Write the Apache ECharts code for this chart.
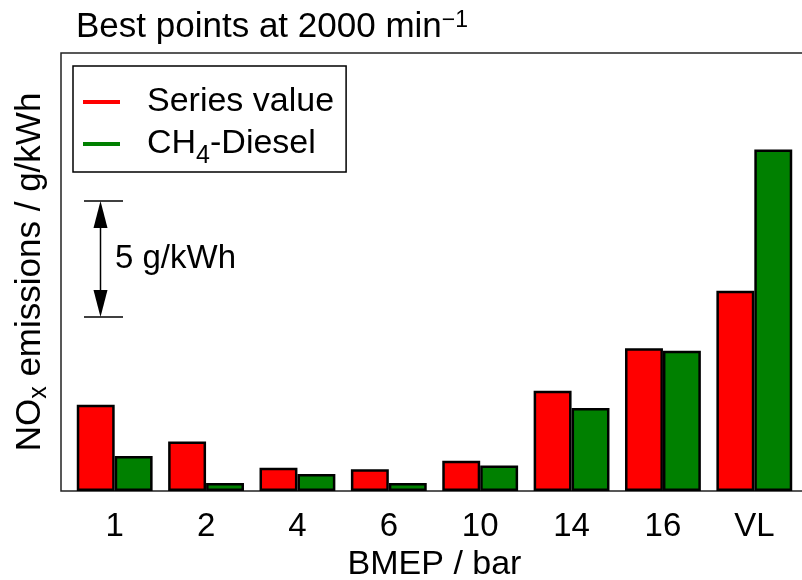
<!DOCTYPE html>
<html style='height: 100%'>
<head>
    <meta charset='utf-8'>
</head>
<body style='height: 100%; margin: 0; background: #fff'>
    <div id='container' style='width: 802px; height: 580px'></div>
    <script src="https://cdn.jsdelivr.net/npm/echarts@6/dist/echarts.min.js"></script>
    <script type="text/javascript">

// NOx at best points, 2000 1/min
var categories = ['1', '2', '4', '6', '10', '14', '16', 'VL'];
var seriesValue = [3.72, 2.13, 1.0, 0.94, 1.3, 4.32, 6.15, 8.63];
var ch4Diesel = [1.51, 0.35, 0.73, 0.35, 1.1, 3.58, 6.05, 14.72];
var scaleBar = [7.5, 12.5];   // 5 g/kWh reference bracket
var yMax = 18.88;

var FONT = "'Liberation Sans', Arial, sans-serif";
var dom = document.getElementById("container");
var myChart = echarts.init(dom);

var gridLeft = 69, gridTop = 53, gridBottom = 89;

var option = {
    animation: false,
    textStyle: { fontFamily: FONT, color: '#000' },
    title: {
        left: 71,
        top: 4,
        text: '{m|Best points at 2000 min}{s|\u22121}',
        textStyle: {
            rich: {
                m: { fontFamily: FONT, fontSize: 35, fontWeight: 'normal', color: '#000', lineHeight: 37 },
                s: { fontFamily: FONT, fontSize: 23, fontWeight: 'normal', color: '#000', lineHeight: 24, verticalAlign: 'top' }
            }
        }
    },
    legend: {
        left: 73,
        top: 66,
        orient: 'vertical',
        borderColor: '#000',
        borderWidth: 1.5,
        padding: [19, 12, 3, 10],
        itemWidth: 37,
        itemHeight: 4,
        itemGap: 8,
        icon: 'rect',
        itemStyle: { borderWidth: 0 },
        formatter: function (name) {
            if (name === 'CH4-Diesel') return '{t|CH}{b|4}{t|-Diesel}';
            return '{t|' + name + '}';
        },
        textStyle: {
            padding: [0, 0, 0, 22],
            rich: {
                t: { fontFamily: FONT, fontSize: 34, color: '#000', lineHeight: 32 },
                b: { fontFamily: FONT, fontSize: 25, color: '#000', lineHeight: 32, verticalAlign: 'top', padding: [16, 0, 0, 0] }
            }
        },
        data: ['Series value', 'CH4-Diesel']
    },
    grid: { left: gridLeft, right: 2, top: gridTop, bottom: gridBottom, outerBoundsMode: 'none' },
    xAxis: {
        type: 'category',
        data: categories,
        name: 'BMEP / bar',
        nameLocation: 'middle',
        nameGap: 54,
        nameTextStyle: { fontFamily: FONT, fontSize: 34, color: '#000' },
        axisLine: { show: false },
        axisTick: { show: false },
        axisLabel: { fontFamily: FONT, fontSize: 33, color: '#000', margin: 19 }
    },
    yAxis: {
        type: 'value',
        min: 0,
        max: yMax,
        name: '{t|NO}{b|x}{t| emissions / g/kWh}',
        nameLocation: 'middle',
        nameGap: 14,
        offset: 8,
        nameTextStyle: {
            rich: {
                t: { fontFamily: FONT, fontSize: 35, color: '#000', lineHeight: 34 },
                b: { fontFamily: FONT, fontSize: 25, color: '#000', lineHeight: 34, verticalAlign: 'top', padding: [14, 0, 0, 0] }
            }
        },
        axisLine: { show: false },
        axisTick: { show: false },
        axisLabel: { show: false },
        splitLine: { show: false }
    },
    series: [
        {
            name: 'Series value',
            type: 'bar',
            data: seriesValue,
            barGap: '0%',
            barCategoryGap: '17%',
            itemStyle: { color: '#ff0000', borderColor: '#000', borderWidth: 2.5 }
        },
        {
            name: 'CH4-Diesel',
            type: 'bar',
            data: ch4Diesel,
            itemStyle: { color: '#008000', borderColor: '#000', borderWidth: 2.5 }
        }
    ]
};

myChart.setOption(option);

// frame lines and the 5 g/kWh bracket, placed through the y scale
var yTop = myChart.convertToPixel({ yAxisIndex: 0 }, yMax);
var yBase = myChart.convertToPixel({ yAxisIndex: 0 }, 0);
var yHi = myChart.convertToPixel({ yAxisIndex: 0 }, scaleBar[1]);
var yLo = myChart.convertToPixel({ yAxisIndex: 0 }, scaleBar[0]);
var axisX = gridLeft - 8;
var bx = gridLeft + 31.5;
var lineStyle = { stroke: '#000', lineWidth: 1.5 };

myChart.setOption({
    graphic: [
        { type: 'polyline', shape: { points: [[802, yTop], [axisX, yTop], [axisX, yBase], [802, yBase]] }, style: { stroke: '#222', lineWidth: 1.5, fill: null } },
        { type: 'line', shape: { x1: gridLeft + 15, y1: yHi, x2: gridLeft + 54, y2: yHi }, style: lineStyle },
        { type: 'line', shape: { x1: gridLeft + 15, y1: yLo, x2: gridLeft + 54, y2: yLo }, style: lineStyle },
        { type: 'line', shape: { x1: bx, y1: yHi + 20, x2: bx, y2: yLo - 20 }, style: lineStyle },
        { type: 'polygon', shape: { points: [[bx, yHi], [bx - 7, yHi + 27], [bx + 7, yHi + 27]] }, style: { fill: '#000' } },
        { type: 'polygon', shape: { points: [[bx, yLo], [bx - 7, yLo - 27], [bx + 7, yLo - 27]] }, style: { fill: '#000' } },
        { type: 'text', x: gridLeft + 46, y: (yHi + yLo) / 2, style: { text: '5 g/kWh', font: '33px ' + FONT, fill: '#000', verticalAlign: 'middle' } }
    ]
});
    </script>
</body>
</html>
